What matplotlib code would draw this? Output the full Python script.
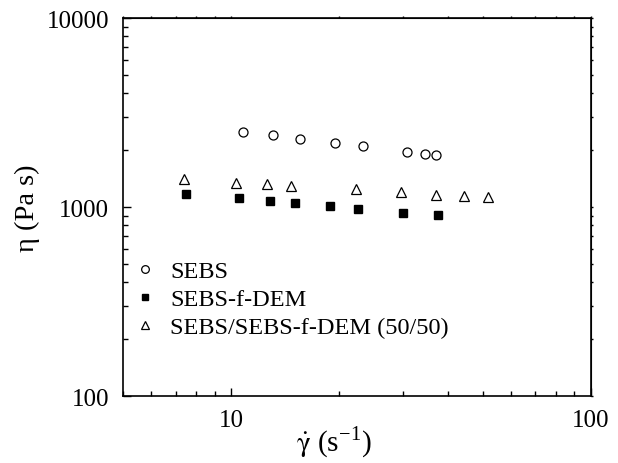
import numpy as np
import matplotlib
matplotlib.use('Agg')
from matplotlib import pyplot as plt

plt.rcParams['font.family'] = ['Liberation Serif', 'DejaVu Serif']
plt.rcParams['mathtext.fontset'] = 'stix'

# shear rate (1/s) and viscosity (Pa s)
sebs_x = [10.8, 13.1, 15.5, 19.4, 23.2, 30.9, 34.6, 37.0]
sebs_y = [2500, 2400, 2300, 2190, 2095, 1960, 1900, 1877]

dem_x = [7.5, 10.5, 12.8, 15.0, 18.8, 22.5, 30.1, 37.6]
dem_y = [1176, 1116, 1076, 1046, 1012, 979, 933, 907]

blend_x = [7.4, 10.3, 12.6, 14.7, 22.2, 29.7, 37.0, 44.4, 51.7]
blend_y = [1406, 1345, 1323, 1296, 1241, 1196, 1162, 1139, 1125]

fig = plt.figure(figsize=(6.18, 4.64), dpi=100)
ax = fig.add_axes([0.199, 0.144, 0.757, 0.815])

ax.plot(sebs_x, sebs_y, 'o', mfc='white', mec='black', ms=6.5, mew=0.9, ls='none', label='SEBS')
ax.plot(dem_x, dem_y, 's', mfc='black', mec='black', ms=5.5, ls='none', label='SEBS-f-DEM')
ax.plot(blend_x, blend_y, '^', mfc='white', mec='black', ms=6.5, mew=0.9, ls='none',
        label='SEBS/SEBS-f-DEM (50/50)')

ax.set_xscale('log')
ax.set_yscale('log')
ax.set_xlim(5, 100)
ax.set_ylim(100, 10000)
ax.set_xticks([10, 100])
ax.set_xticklabels(['10', '100'])
ax.set_yticks([100, 1000, 10000])
ax.set_yticklabels(['100', '1000', '10000'])

ax.tick_params(which='major', direction='in', length=6, width=1, labelsize=18, pad=9)
ax.tick_params(which='minor', direction='in', length=3.5, width=1)
ax.tick_params(axis='y', pad=10)
for s in ax.spines.values():
    s.set_linewidth(1.2)

# tiny outward ticks on top and right
top = ax.secondary_xaxis('top')
top.tick_params(which='both', direction='out', length=1.5, width=1, labeltop=False)
right = ax.secondary_yaxis('right')
right.tick_params(which='both', direction='out', length=1.5, width=1, labelright=False)

ax.set_xlabel(r'$\dot{\mathrm{\gamma}}$ (s$^{\mathregular{-1}}$)', fontsize=21)
ax.xaxis.set_label_coords(0.452, -0.075)
ax.set_ylabel(u'\u03b7 (Pa s)', fontsize=20.5, labelpad=5)

ax.legend(loc='upper left', bbox_to_anchor=(0.0, 0.392), frameon=False, fontsize=17.5,
          handletextpad=0.64, labelspacing=0.25, borderaxespad=0.1, borderpad=0.4,
          handlelength=0.8, markerscale=0.85)

fig.savefig('out.png', dpi=100)
